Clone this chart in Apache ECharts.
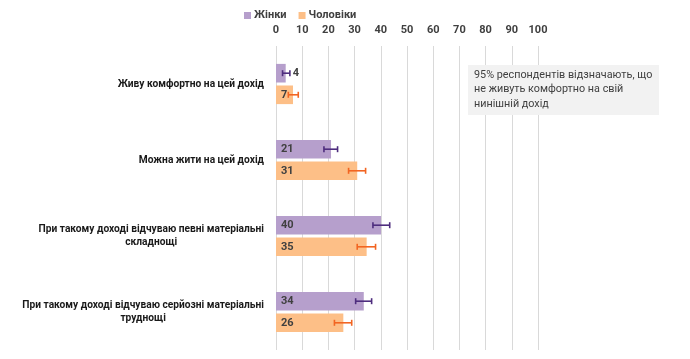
<!DOCTYPE html>
<html>
<head>
<meta charset="utf-8">
<script src="https://cdn.jsdelivr.net/npm/echarts@6/dist/echarts.min.js"></script>
<style>html,body{margin:0;padding:0;background:#fff}#c{width:690px;height:359px}</style>
</head>
<body>
<div id="c"></div>
<script>
var categories = [
  'Живу комфортно на цей дохід',
  'Можна жити на цей дохід',
  'При такому доході відчуваю певні матеріальні\nскладнощі',
  'При такому доході відчуваю серйозні матеріальні\nтруднощі'
];
var seriesNames = ['Жінки', 'Чоловіки'];
var women = [3.7, 21, 40.1, 33.5];
var men = [6.5, 31, 34.6, 25.7];
var womenLow = [2.5, 18.3, 37, 30.4];
var womenHigh = [5.3, 23.5, 43.4, 36.5];
var menLow = [4.7, 27.7, 31, 22.3];
var menHigh = [8.5, 34.2, 38, 28.9];
var xTicks = [0, 10, 20, 30, 40, 50, 60, 70, 80, 90, 100];
var noteText = '95% респондентів відзначають, що\nне живуть комфортно на свій\nнинішній дохід';

var colWomen = '#b69fcc', colMen = '#fdbf87';
var errWomen = '#4e2d7e', errMen = '#f26522';
var BW = 0.245, GAP = 0.16;

function labelData(vals, smallOutside) {
  return vals.map(function (v, i) {
    var d = { value: v };
    if (smallOutside && v < 5) {
      d.label = { position: 'right', distance: 7 };
    }
    return d;
  });
}

function errSeries(low, high, color, sign) {
  var data = low.map(function (l, i) { return [i, l, high[i]]; });
  return {
    type: 'custom',
    silent: true,
    z: 5,
    encode: { y: 0, x: [1, 2] },
    data: data,
    renderItem: function (params, api) {
      var ci = api.value(0);
      var p1 = api.coord([api.value(1), ci]);
      var p2 = api.coord([api.value(2), ci]);
      var band = api.size([0, 1])[1];
      var off = sign * band * BW * (1 + GAP) / 2;
      var y = p1[1] + off;
      var cap = 3;
      var st = { stroke: color, lineWidth: 1.6 };
      return {
        type: 'group',
        children: [
          { type: 'line', shape: { x1: p1[0], y1: y, x2: p2[0], y2: y }, style: st },
          { type: 'line', shape: { x1: p1[0], y1: y - cap, x2: p1[0], y2: y + cap }, style: st },
          { type: 'line', shape: { x1: p2[0], y1: y - cap, x2: p2[0], y2: y + cap }, style: st }
        ]
      };
    }
  };
}

var barLabel = {
  show: true,
  position: 'insideLeft',
  distance: 5,
  color: '#404040',
  fontWeight: 'bold',
  fontSize: 11,
  fontFamily: 'Roboto',
  formatter: function (p) { return Math.round(p.value); }
};

var chart = echarts.init(document.getElementById('c'), null, { renderer: 'canvas' });
chart.setOption({
  animation: false,
  legend: {
    data: seriesNames,
    left: 239,
    top: 5,
    itemWidth: 7,
    itemHeight: 7,
    itemGap: 12,
    icon: 'rect',
    textStyle: { color: '#404040', fontWeight: 'bold', fontSize: 11, fontFamily: 'Roboto', padding: [0, 0, 0, -2] }
  },
  grid: { left: 276, right: 152, top: 46, bottom: 9, containLabel: false },
  xAxis: {
    type: 'value',
    position: 'top',
    min: 0,
    max: 100,
    interval: 10,
    axisLine: { show: false },
    axisTick: { show: false },
    splitLine: { lineStyle: { color: '#d9d9d9', width: 1 } },
    axisLabel: {
      margin: 10,
      color: '#404040',
      fontWeight: 'bold',
      fontSize: 11,
      fontFamily: 'Roboto',
      formatter: function (v) { return xTicks.indexOf(v) >= 0 ? String(v) : ''; }
    }
  },
  yAxis: {
    type: 'category',
    inverse: true,
    data: categories,
    axisLine: { show: false },
    axisTick: { show: false },
    axisLabel: {
      margin: 12,
      formatter: function (v) {
        return v.split('\n').map(function (s) { return '{a|' + s + '}'; }).join('\n');
      },
      rich: {
        a: { align: 'center', color: '#1a1a1a', fontWeight: 'bold', fontSize: 10.2, fontFamily: 'Roboto', lineHeight: 13 }
      }
    }
  },
  series: [
    {
      name: seriesNames[0], type: 'bar', data: labelData(women, true),
      barWidth: (BW * 100) + '%', barGap: (GAP * 100) + '%',
      itemStyle: { color: colWomen },
      label: barLabel
    },
    {
      name: seriesNames[1], type: 'bar', data: labelData(men, false),
      barWidth: (BW * 100) + '%', barGap: (GAP * 100) + '%',
      itemStyle: { color: colMen },
      label: barLabel
    },
    errSeries(womenLow, womenHigh, errWomen, -1),
    errSeries(menLow, menHigh, errMen, 1)
  ],
  graphic: [
    {
      type: 'group', left: 468, top: 65, z: 100,
      children: [
        { type: 'rect', z: 100, shape: { x: 0, y: 0, width: 191, height: 50 }, style: { fill: '#f2f2f2' } },
        { type: 'text', z: 101, x: 6, y: 3, style: { text: noteText, fill: '#404040', fontSize: 10.8, fontFamily: 'Roboto', lineHeight: 14.5 } }
      ]
    }
  ]
});
</script>
</body>
</html>
